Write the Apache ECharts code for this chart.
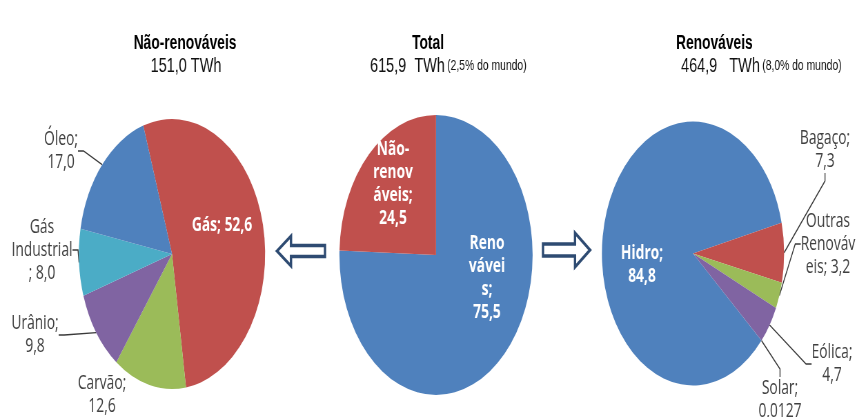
<!DOCTYPE html>
<html>
<head>
<meta charset="utf-8">
<script src="https://cdn.jsdelivr.net/npm/echarts@6/dist/echarts.min.js"></script>
<style>
  html, body { margin: 0; padding: 0; background: #fff; overflow: hidden; width: 857px; height: 417px; }
  /* the three panels are drawn on a wider canvas and squeezed horizontally */
  #chart { width: 1242px; height: 417px; transform: scaleX(0.69); transform-origin: 0 0; }
</style>
</head>
<body>
<div id="chart"></div>
<script>
// Geração de eletricidade por fonte (%)
const naoRenovCategories = ['Gás', 'Carvão', 'Urânio', 'Gás Industrial', 'Óleo'];
const naoRenovValues = [52.6, 12.6, 9.8, 8.0, 17.0];

const totalCategories = ['Renováveis', 'Não-renováveis'];
const totalValues = [75.5, 24.5];

const renovCategories = ['Hidro', 'Bagaço', 'Outras Renováveis', 'Eólica', 'Solar'];
const renovValues = [84.8, 7.3, 3.2, 4.7, 0.0127];

const panelTitles = ['Não-renováveis', 'Total', 'Renováveis'];
const panelTotals = ['151,0 TWh', '615,9  TWh', '464,9   TWh'];
const panelShares = ['', '(2,5% do mundo)', '(8,0% do mundo)'];

const SX = 0.69;                       // horizontal squeeze applied to the canvas
const px = x => x / SX;                // page x -> canvas x

const COLORS = {
  'Gás': '#C0504D', 'Carvão': '#9BBB59', 'Urânio': '#8064A2', 'Gás Industrial': '#4BACC6', 'Óleo': '#4F81BD',
  'Renováveis': '#4F81BD', 'Não-renováveis': '#C0504D',
  'Hidro': '#4F81BD', 'Bagaço': '#C0504D', 'Outras Renováveis': '#9BBB59', 'Eólica': '#8064A2', 'Solar': '#4BACC6'
};

// how each label wraps; {v} is the slice value
const LABEL_TEMPLATES = {
  'Gás': 'Gás; {v}',
  'Gás Industrial': 'Gás\nIndustrial\n; {v}',
  'Outras Renováveis': 'Outras\nRenováv\neis; {v}',
  'Não-renováveis': 'Não-\nrenov\náveis;\n{v}',
  'Renováveis': 'Reno\nvávei\ns;\n{v}'
};
const INSIDE = new Set(['Gás', 'Renováveis', 'Não-renováveis', 'Hidro']);
const NO_LINE = new Set(['Carvão']);

// label block centres, in page pixels
const LABEL_SPOTS = {
  'Gás': [222, 225], 'Carvão': [102, 395], 'Urânio': [35, 335], 'Gás Industrial': [42, 250], 'Óleo': [61, 151],
  'Renováveis': [487, 278], 'Não-renováveis': [393, 184],
  'Hidro': [642, 265], 'Bagaço': [825, 150], 'Outras Renováveis': [828, 244], 'Eólica': [832, 364], 'Solar': [780, 400]
};

function fmt(v) {
  const s = v < 0.1 ? v.toFixed(4) : v.toFixed(1);
  return s.replace('.', ',');
}

function labelText(name, v) {
  const t = LABEL_TEMPLATES[name] || (name + ';\n{v}');
  return t.replace('{v}', fmt(v));
}

function pieSeries(cats, vals, center, radius, startAngle) {
  return {
    type: 'pie',
    center: center,
    radius: radius,
    startAngle: startAngle,
    clockwise: true,
    avoidLabelOverlap: false,
    animation: false,
    itemStyle: { borderWidth: 0 },
    emphasis: { disabled: true },
    data: cats.map((name, i) => {
      const inside = INSIDE.has(name);
      return {
        name: name,
        value: vals[i],
        itemStyle: { color: COLORS[name] },
        label: inside
          ? { position: 'inside', color: '#ffffff', fontWeight: 'bold' }
          : { position: 'outside', color: '#404040', fontWeight: 'normal' },
        labelLine: { show: !inside && !NO_LINE.has(name) }
      };
    }),
    label: {
      show: true,
      fontFamily: '"Open Sans", sans-serif',
      fontSize: 20,
      lineHeight: 23,
      align: 'center',
      formatter: p => labelText(p.name, p.value)
    },
    labelLine: {
      length: 6,
      length2: 8,
      smooth: false,
      lineStyle: { color: '#3a3a3a', width: 1.4 }
    },
    labelLayout: p => {
      const spot = LABEL_SPOTS[cats[p.dataIndex]];
      return { x: px(spot[0]), y: spot[1], align: 'center', verticalAlign: 'middle' };
    }
  };
}

function arrow(tipX, baseX, endX, cy, headHalf, shaftHalf) {
  return {
    type: 'polygon',
    shape: {
      points: [
        [px(tipX), cy],
        [px(baseX), cy - headHalf],
        [px(baseX), cy - shaftHalf],
        [px(endX), cy - shaftHalf],
        [px(endX), cy + shaftHalf],
        [px(baseX), cy + shaftHalf],
        [px(baseX), cy + headHalf]
      ]
    },
    style: { fill: '#ffffff', stroke: '#2E4B72', lineWidth: 3.4, lineJoin: 'miter' },
    z: 10
  };
}

const titleFont = '"Liberation Sans", Arial, sans-serif';

function heading(text, x, align) {
  return {
    type: 'text', x: px(x), y: 43,
    style: { text: text, font: 'bold 20px ' + titleFont, fill: '#000', align: align, verticalAlign: 'middle', textAlign: align, textVerticalAlign: 'middle' }
  };
}

function totalLine(total, share, x, align) {
  return {
    type: 'text', x: px(x), y: 66,
    style: {
      text: share ? '{a|' + total + '} {b|' + share + '}' : '{a|' + total + '}',
      align: align, verticalAlign: 'middle', textAlign: align, textVerticalAlign: 'middle',
      rich: {
        a: { fontFamily: titleFont, fontSize: 21, fill: '#111', color: '#111' },
        b: { fontFamily: titleFont, fontSize: 15, fill: '#111', color: '#111' }
      }
    }
  };
}

const graphic = [
  heading(panelTitles[0], 185, 'center'),
  heading(panelTitles[1], 428, 'center'),
  heading(panelTitles[2], 676, 'left'),
  totalLine(panelTotals[0], panelShares[0], 186, 'center'),
  totalLine(panelTotals[1], panelShares[1], 370, 'left'),
  totalLine(panelTotals[2], panelShares[2], 681, 'left'),
  // arrows between the panels
  arrow(277, 291, 325, 251, 15, 5.5),
  arrow(590, 575, 543, 250, 17, 6)
];

const chart = echarts.init(document.getElementById('chart'), null, { renderer: 'canvas' });
chart.setOption({
  backgroundColor: '#ffffff',
  animation: false,
  graphic: graphic,
  series: [
    pieSeries(naoRenovCategories, naoRenovValues, [px(172), 254], 135, 108),
    pieSeries(totalCategories, totalValues, [px(436), 255], 140, 90),
    pieSeries(renovCategories, renovValues, [px(693), 253.5], 132, 318.7)
  ]
});
</script>
</body>
</html>
